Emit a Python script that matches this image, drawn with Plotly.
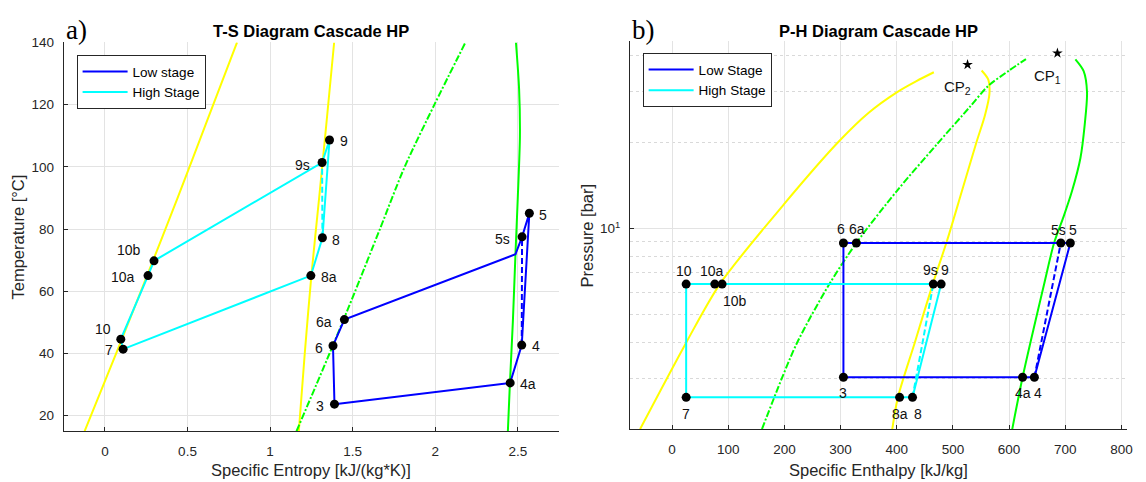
import numpy as np
import plotly.graph_objects as go

# ---------------- T-S diagram ----------------
# saturation lines of the high-stage fluid (yellow)
ts_T_sat2 = [15, 40, 65, 90, 115, 140]
ts_s_liq2 = [-0.123, 0.068, 0.255, 0.44, 0.62, 0.80]
ts_s_vap2 = [1.174, 1.21, 1.25, 1.297, 1.343, 1.388]
# saturation lines of the low-stage fluid (green)
ts_T_liq1 = [15, 40, 60, 80, 100, 120, 140]
ts_s_liq1 = [1.16, 1.36, 1.515, 1.665, 1.815, 1.995, 2.183]
ts_T_vap1 = [15, 30, 50, 72, 90, 110, 125, 140]
ts_s_vap1 = [2.44, 2.452, 2.47, 2.486, 2.50, 2.513, 2.508, 2.489]

# low stage cycle: 3 -> 4a -> 4 -> 5 -> 5s -> (sat. vapour) -> 6a -> 6 -> 3
ts_low_lbl = ["3", "4a", "4", "5", "5s", "", "6a", "6", "3"]
ts_low_s = [1.390, 2.454, 2.524, 2.570, 2.526, 2.486, 1.450, 1.381, 1.390]
ts_low_T = [23.7, 30.55, 42.7, 85.1, 77.5, 71.9, 50.9, 42.5, 23.7]
# isentropic compression 4 -> 5s
ts_low_is_s = [2.524, 2.526]
ts_low_is_T = [42.7, 77.5]

# high stage cycle: 7 -> 8a -> 8 -> 9 -> 9s -> 10b -> 10a -> 10 -> 7
ts_high_lbl = ["7", "8a", "8", "9", "9s", "10b", "10a", "10", "7"]
ts_high_s = [0.110, 1.247, 1.317, 1.360, 1.315, 0.297, 0.261, 0.096, 0.110]
ts_high_T = [41.4, 65.05, 77.2, 108.65, 101.4, 69.8, 65.05, 44.6, 41.4]
# isentropic compression 8 -> 9s
ts_high_is_s = [1.317, 1.315]
ts_high_is_T = [77.2, 101.4]

# ---------------- P-H diagram ----------------
ph_h_liq2 = [-57, 25, 85, 200, 298, 350, 400, 435, 466]
ph_P_liq2 = [2.0, 4.0, 6.4, 12.2, 20.2, 25.3, 29.8, 32.6, 35.0]
ph_h_vap2 = [392, 402, 432, 464, 489, 516, 542, 557, 565, 563, 551]
ph_P_vap2 = [2.0, 2.58, 4.0, 6.4, 9.0, 13.5, 20.0, 24.8, 29.5, 33.0, 35.5]
ph_h_liq1 = [160, 221, 280, 328, 400, 470, 530, 563, 600, 630]
ph_P_liq1 = [2.0, 3.94, 6.4, 8.9, 13.5, 19.5, 26.5, 31.4, 35.5, 38.9]
ph_h_vap1 = [605.6, 624, 663, 680, 697, 712, 727, 734.5, 738.7, 732.7, 718]
ph_P_vap1 = [2.0, 3.03, 6.48, 8.9, 11.0, 13.5, 17.6, 22.9, 29.8, 35.3, 38.8]

# critical points
cp_lbl = ["CP<sub>1</sub>", "CP<sub>2</sub>"]
cp_h = [686, 526]
cp_P = [40.8, 37.2]

ph_low_lbl = ["3", "4a", "4", "5", "5s", "6a", "6", "3"]
ph_low_h = [305, 624, 645, 709, 692, 328, 305, 305]
ph_low_P = [3.03, 3.03, 3.03, 8.9, 8.9, 8.9, 8.9, 3.03]
ph_low_is_h = [645, 692]
ph_low_is_P = [3.03, 8.9]

ph_high_lbl = ["7", "8a", "8", "9", "9s", "10b", "10a", "10", "7"]
ph_high_h = [25, 405, 428, 479, 465, 89, 76, 25, 25]
ph_high_P = [2.58, 2.58, 2.58, 6.4, 6.4, 6.4, 6.4, 6.4, 2.58]
ph_high_is_h = [428, 465]
ph_high_is_P = [2.58, 6.4]

# ---------------- styling ----------------
FONT = "Liberation Sans, Arial, Helvetica, sans-serif"
INK = "#262626"
GRID = "#e3e3e3"
BLUE, CYAN, YELLOW, GREEN = "#0000ff", "#00ffff", "#ffff00", "#00ff00"
W, H = 1146, 482

# label placement around the state points: (xanchor, xshift, yshift)
ts_place = {
    "3": ("right", -8, -2), "4a": ("left", 8, -1), "4": ("left", 8, -1),
    "5": ("left", 8, -2), "5s": ("right", -10, -2), "6": ("right", -8, -2),
    "6a": ("right", -10, -2), "7": ("right", -8, -1), "8": ("left", 8, -2),
    "8a": ("left", 8, -1), "9": ("left", 8, -1), "9s": ("right", -10, -2),
    "10": ("right", -8, 10), "10a": ("right", -11, -1), "10b": ("right", -11, 11),
}
ph_place = {
    "6": ("center", -2, 14), "6a": ("center", 1, 14), "5s": ("center", -2, 13),
    "5": ("center", 3, 13), "10": ("center", -2, 13), "10a": ("center", -3, 13),
    "10b": ("center", 13, -17), "9s": ("center", -3, 14), "9": ("center", 4, 14),
    "3": ("center", 0, -16), "4a": ("center", 0, -16), "4": ("center", 4, -16),
    "7": ("center", 0, -17), "8a": ("center", 0, -17), "8": ("center", 5, -17),
}

fig = go.Figure()


def line(x, y, color, xa, ya, dash="solid", name=None, legend=None,
         width=2, shape="linear"):
    fig.add_trace(go.Scatter(
        x=x, y=y, mode="lines", xaxis=xa, yaxis=ya,
        line=dict(color=color, width=width, dash=dash, shape=shape,
                  smoothing=0.8 if shape == "spline" else None),
        name=name or "", showlegend=name is not None,
        legend=legend, hoverinfo="skip"))


# T-S saturation curves
line(ts_s_liq2, ts_T_sat2, YELLOW, "x", "y", shape="spline")
line(ts_s_vap2, ts_T_sat2, YELLOW, "x", "y", shape="spline")
line(ts_s_liq1, ts_T_liq1, GREEN, "x", "y", dash="7px,2px,2px,2px", shape="spline")
line(ts_s_vap1, ts_T_vap1, GREEN, "x", "y", shape="spline")
# T-S cycles
line(ts_low_s, ts_low_T, BLUE, "x", "y", name="Low stage", legend="legend")
line(ts_high_s, ts_high_T, CYAN, "x", "y", name="High Stage", legend="legend")
line(ts_low_is_s, ts_low_is_T, BLUE, "x", "y", dash="6px,3px")
line(ts_high_is_s, ts_high_is_T, CYAN, "x", "y", dash="6px,3px")

# P-H saturation curves
line(ph_h_liq2, ph_P_liq2, YELLOW, "x2", "y2", shape="spline")
line(ph_h_vap2, ph_P_vap2, YELLOW, "x2", "y2", shape="spline")
line(ph_h_liq1, ph_P_liq1, GREEN, "x2", "y2", dash="7px,2px,2px,2px", shape="spline")
line(ph_h_vap1, ph_P_vap1, GREEN, "x2", "y2", shape="spline")
# P-H cycles
line(ph_low_h, ph_low_P, BLUE, "x2", "y2", name="Low Stage", legend="legend2")
line(ph_high_h, ph_high_P, CYAN, "x2", "y2", name="High Stage", legend="legend2")
line(ph_low_is_h, ph_low_is_P, BLUE, "x2", "y2", dash="6px,3px")
line(ph_high_is_h, ph_high_is_P, CYAN, "x2", "y2", dash="6px,3px")

annotations = []


def points(lbls, xs, ys, xa, ya, place, log_y=False):
    seen = set()
    px, py = [], []
    for lb, xv, yv in zip(lbls, xs, ys):
        if not lb or lb in seen:
            continue
        seen.add(lb)
        px.append(xv)
        py.append(yv)
        anc, dx, dy = place[lb]
        # annotations on a log axis are positioned in log10 units
        ya_val = float(np.log10(yv)) if log_y else yv
        annotations.append(dict(
            x=xv, y=ya_val, xref=xa, yref=ya, text=lb, showarrow=False,
            xanchor=anc, yanchor="middle", xshift=dx, yshift=dy,
            font=dict(family=FONT, size=14, color="#111111")))
    fig.add_trace(go.Scatter(
        x=px, y=py, mode="markers", xaxis=xa, yaxis=ya, showlegend=False,
        marker=dict(color="black", size=9), hoverinfo="skip"))


points(ts_low_lbl, ts_low_s, ts_low_T, "x", "y", ts_place)
points(ts_high_lbl, ts_high_s, ts_high_T, "x", "y", ts_place)
points(ph_low_lbl, ph_low_h, ph_low_P, "x2", "y2", ph_place, log_y=True)
points(ph_high_lbl, ph_high_h, ph_high_P, "x2", "y2", ph_place, log_y=True)

# critical points
fig.add_trace(go.Scatter(
    x=cp_h, y=cp_P, mode="markers", xaxis="x2", yaxis="y2", showlegend=False,
    marker=dict(symbol="star", color="black", size=8), hoverinfo="skip"))
for lb, hv, pv in zip(cp_lbl, cp_h, cp_P):
    annotations.append(dict(
        x=hv, y=float(np.log10(pv)), xref="x2", yref="y2", text=lb,
        showarrow=False, xanchor="center", yanchor="middle",
        xshift=-10, yshift=-23,
        font=dict(family=FONT, size=15, color="#111111")))


def px_x(v):
    return v / W


def px_y(v):
    return 1 - v / H


# panel letters, titles and axis titles
for txt, x in [("a)", 64), ("b)", 633)]:
    annotations.append(dict(
        x=px_x(x), y=px_y(23), xref="paper", yref="paper", text=txt,
        showarrow=False, xanchor="left", yanchor="middle",
        font=dict(family="Liberation Serif, Times New Roman, serif", size=27, color="black")))
for txt, x in [("<b>T-S Diagram Cascade HP</b>", 313), ("<b>P-H Diagram Cascade HP</b>", 883)]:
    annotations.append(dict(
        x=px_x(x), y=px_y(24), xref="paper", yref="paper", text=txt,
        showarrow=False, xanchor="center", yanchor="middle",
        font=dict(family=FONT, size=16.5, color="black")))
for txt, x in [("Specific Entropy [kJ/(kg*K)]", 313), ("Specific Enthalpy [kJ/kg]", 883)]:
    annotations.append(dict(
        x=px_x(x), y=px_y(470), xref="paper", yref="paper", text=txt,
        showarrow=False, xanchor="center", yanchor="middle",
        font=dict(family=FONT, size=16.5, color=INK)))
for txt, x, yc in [("Temperature [°C]", 18, 233), ("Pressure [bar]", 590, 232)]:
    annotations.append(dict(
        x=px_x(x), y=px_y(yc), xref="paper", yref="paper", text=txt,
        showarrow=False, xanchor="center", yanchor="middle", textangle=-90,
        font=dict(family=FONT, size=16.5, color=INK)))

axis_common = dict(
    showline=True, linecolor=INK, linewidth=1, mirror=False,
    showgrid=True, gridcolor=GRID, gridwidth=1, zeroline=False,
    ticks="inside", ticklen=4, tickcolor=INK,
    tickfont=dict(family=FONT, size=13.5, color=INK),
)

legend_common = dict(
    xanchor="left", yanchor="top", bgcolor="white", bordercolor=INK,
    borderwidth=1, font=dict(family=FONT, size=13.5, color="black"),
    itemwidth=45, tracegroupgap=0, traceorder="normal",
)

fig.update_layout(
    width=W, height=H, autosize=False,
    margin=dict(l=0, r=0, t=0, b=0),
    paper_bgcolor="white", plot_bgcolor="white",
    showlegend=True,
    xaxis=dict(domain=[px_x(64), px_x(562)], range=[-0.25, 2.75],
               tickvals=[0, 0.5, 1, 1.5, 2, 2.5], ticktext=["0", "0.5", "1", "1.5", "2", "2.5"],
               anchor="y", ticklabelstandoff=8, **axis_common),
    yaxis=dict(domain=[px_y(430.5), px_y(36)], range=[15, 140],
               tickvals=[20, 40, 60, 80, 100, 120, 140],
               anchor="x", ticklabelstandoff=6, **axis_common),
    xaxis2=dict(domain=[px_x(633.3), px_x(1133)], range=[-75, 810],
                tickvals=list(range(0, 801, 100)),
                anchor="y2", ticklabelstandoff=8, **axis_common),
    yaxis2=dict(domain=[px_y(428.3), px_y(35)], type="log",
                range=[np.log10(2.0), np.log10(44.8)],
                tickvals=[10], ticktext=["10<sup>1</sup>"],
                minor=dict(tickvals=[2, 3, 4, 5, 6, 7, 8, 9, 20, 30, 40],
                           showgrid=True, gridcolor="#d9d9d9", griddash="dot", ticks=""),
                anchor="x2", ticklabelstandoff=6, **axis_common),
    legend=dict(x=px_x(77), y=px_y(49), **legend_common),
    legend2=dict(x=px_x(646), y=px_y(47), **legend_common),
    annotations=annotations,
)

fig.write_html("out.html")
